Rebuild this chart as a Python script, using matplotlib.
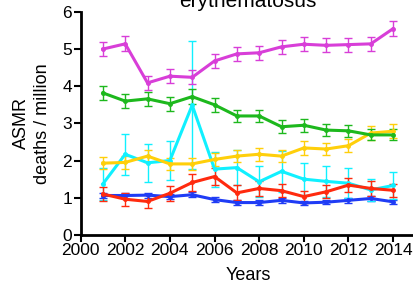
import numpy as np
import matplotlib.pyplot as plt

plt.rcParams['font.family'] = ['Liberation Sans', 'DejaVu Sans']

years = np.arange(2001, 2015)

# ASMR values per series
blue = [1.06, 1.06, 1.07, 1.03, 1.08, 0.95, 0.87, 0.87, 0.93, 0.86, 0.88, 0.93, 0.98, 0.89]
blue_err = [0.08, 0.07, 0.07, 0.07, 0.07, 0.06, 0.06, 0.06, 0.06, 0.06, 0.06, 0.06, 0.06, 0.06]

cyan = [1.37, 2.17, 1.94, 2.00, 3.49, 1.77, 1.81, 1.43, 1.71, 1.50, 1.44, 1.39, 1.21, 1.33]
cyan_err = [0.42, 0.55, 0.51, 0.52, 1.72, 0.47, 0.48, 0.42, 0.55, 0.43, 0.41, 0.40, 0.30, 0.36]

red = [1.10, 0.96, 0.90, 1.12, 1.41, 1.57, 1.13, 1.25, 1.19, 1.03, 1.16, 1.34, 1.25, 1.20]
red_err = [0.18, 0.18, 0.17, 0.20, 0.22, 0.23, 0.20, 0.19, 0.18, 0.16, 0.18, 0.18, 0.19, 0.17]

yellow = [1.93, 1.95, 2.12, 1.91, 1.91, 2.03, 2.12, 2.17, 2.12, 2.34, 2.31, 2.40, 2.74, 2.79]
yellow_err = [0.17, 0.17, 0.17, 0.17, 0.16, 0.17, 0.17, 0.17, 0.17, 0.18, 0.17, 0.18, 0.19, 0.19]

green = [3.82, 3.60, 3.66, 3.53, 3.72, 3.50, 3.20, 3.20, 2.91, 2.95, 2.82, 2.80, 2.69, 2.69]
green_err = [0.19, 0.19, 0.19, 0.19, 0.20, 0.18, 0.17, 0.17, 0.17, 0.17, 0.16, 0.16, 0.15, 0.15]

magenta = [5.00, 5.14, 4.09, 4.27, 4.24, 4.68, 4.87, 4.90, 5.06, 5.13, 5.10, 5.12, 5.14, 5.55]
magenta_err = [0.20, 0.20, 0.19, 0.19, 0.19, 0.18, 0.18, 0.19, 0.19, 0.19, 0.19, 0.19, 0.19, 0.20]

series = [
    (blue, blue_err, '#1f3cf5'),
    (cyan, cyan_err, '#10f0ff'),
    (red, red_err, '#ff2a0e'),
    (yellow, yellow_err, '#ffcf0a'),
    (green, green_err, '#1db81d'),
    (magenta, magenta_err, '#d83ed8'),
]

fig = plt.figure(figsize=(4.13, 2.9), dpi=100)
ax = fig.add_axes([0.195, 0.19, 0.811, 0.769])

for vals, errs, col in series:
    ax.errorbar(years, vals, yerr=errs, color=col, lw=2.2, marker='o', ms=2.5,
                elinewidth=1.0, capsize=3, capthick=1.0, clip_on=False)

ax.set_xlim(2000, 2015)
ax.set_ylim(0, 6)
ax.set_xticks(np.arange(2000, 2016, 2))
ax.set_yticks(np.arange(0, 7, 1))
ax.spines['top'].set_visible(False)
ax.spines['right'].set_visible(False)
ax.spines['left'].set_linewidth(2)
ax.spines['bottom'].set_linewidth(2)
ax.tick_params(axis='both', direction='out', length=5, width=1.5, labelsize=12.5, pad=1)

ax.set_xlabel('Years', fontsize=13, labelpad=6)
ax.set_ylabel('ASMR\ndeaths / million', fontsize=13, labelpad=8, linespacing=1.35)

fig.text(0.6, 0.962, 'Systemic lupus\nerythematosus', ha='center', va='bottom',
         fontsize=15, linespacing=1.0)

plt.savefig('out.png', dpi=100)
